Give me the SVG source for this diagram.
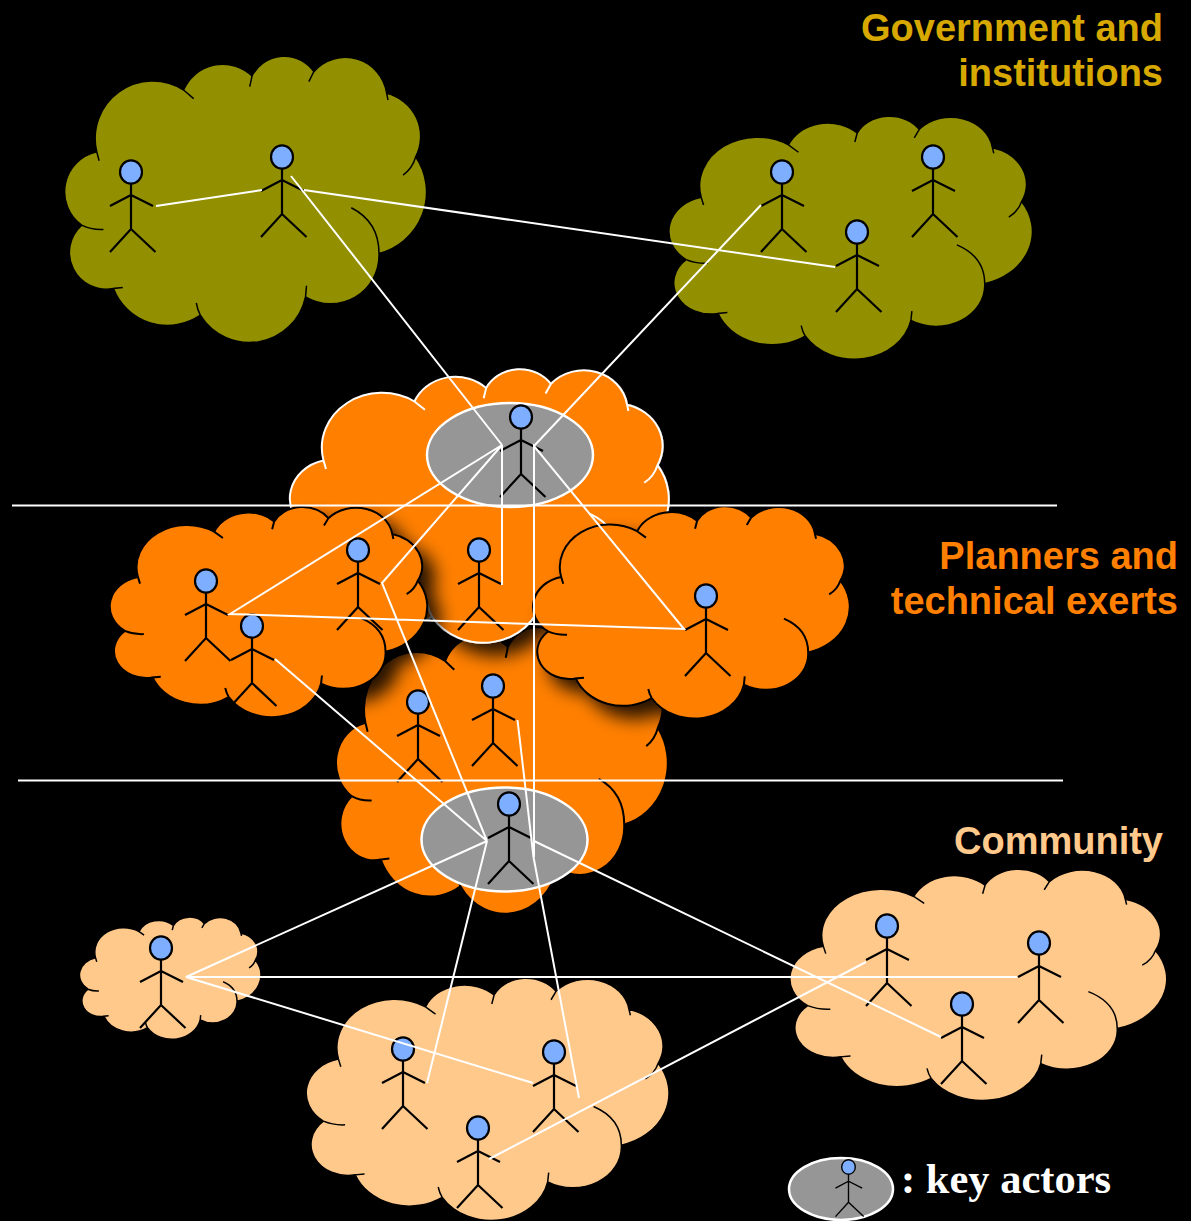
<svg xmlns="http://www.w3.org/2000/svg" width="1191" height="1221" viewBox="0 0 1191 1221">
<style>
.c path{vector-effect:non-scaling-stroke}
.o{fill:#929000;stroke:#000;stroke-width:1.5}
.or{fill:#ff7f00;stroke:#000;stroke-width:2}
.ow{fill:#ff7f00;stroke:#fff;stroke-width:2}
.p{fill:#ffc98c;stroke:#000;stroke-width:1.5}
.k{fill:#969696;stroke:#fff;stroke-width:2.5}
.a path{fill:none;stroke:#000;stroke-width:2.2}
.a ellipse{fill:#7eaeff;stroke:#000;stroke-width:2.2}
#links path{fill:none;stroke:#fff;stroke-width:2}
text{font-family:"Liberation Sans",Arial,sans-serif;font-weight:bold;font-size:38px;text-anchor:end}
</style>
<defs>
<filter id="sh" x="-20%" y="-20%" width="150%" height="150%"><feGaussianBlur in="SourceAlpha" stdDeviation="9"/><feOffset dx="12" dy="12"/><feComponentTransfer><feFuncA type="linear" slope="0.85"/></feComponentTransfer><feMerge><feMergeNode/><feMergeNode in="SourceGraphic"/></feMerge></filter>
<g id="cloud" class="c">
<path stroke="none" d="M95 555A123 123 0 0 1 140 335A172 172 0 0 1 400 150A127 127 0 0 1 605 108A108 108 0 0 1 790 95A125 125 0 0 1 1008 160A133 133 0 0 1 1095 350A190 190 0 0 1 985 640A145 145 0 0 1 765 770A172 172 0 0 1 450 825A173 173 0 0 1 190 745A110 110 0 0 1 95 555Z"/>
<path fill="none" d="M160 568Q125 570 95 555A123 123 0 0 1 140 335L147 362M140 335A172 172 0 0 1 400 150L430 176M400 150A127 127 0 0 1 605 108L598 140M605 108A108 108 0 0 1 790 95L775 125M790 95A125 125 0 0 1 1008 160L1012 180M1008 160A133 133 0 0 1 1095 350Q1085 385 1057 405M1095 350A190 190 0 0 1 985 640M902 503Q985 545 985 640A145 145 0 0 1 765 770L768 737M765 770A172 172 0 0 1 450 825Q442 810 438 788M450 825A173 173 0 0 1 190 745L218 742M190 745A110 110 0 0 1 95 555"/>
</g>
<g id="actor" class="a">
<ellipse cx="0" cy="0" rx="11" ry="11.7"/>
<path d="M0 11.7V57M-21 34L0 23L22 34M-21 80L0 57L24.5 80"/>
</g>
</defs>
<rect width="1191" height="1221" fill="#000"/>
<g id="cloud-gov-left"><use href="#cloud" class="o" transform="translate(65.7 56) scale(.334 .3335) translate(-47 -48)"/></g>
<g id="cloud-gov-right"><use href="#cloud" class="o" transform="translate(670 116) scale(.3355 .2832) translate(-47 -48)"/></g>
<g id="cloud-plan-lower"><use href="#cloud" class="or" transform="translate(337 627) scale(.3062 .3337) translate(-47 -48)"/></g>
<g id="cloud-plan-top" filter="url(#sh)"><use href="#cloud" class="ow" transform="translate(291 369) scale(.3497 .3186) translate(-47 -48)"/></g>
<g id="cloud-plan-left" filter="url(#sh)"><use href="#cloud" class="or" transform="translate(110.700 506.700) scale(.293 .245) translate(-47 -48)"/></g>
<g id="cloud-plan-right" filter="url(#sh)"><use href="#cloud" class="or" transform="translate(534 506) scale(.2923 .2474) translate(-47 -48)"/></g>
<g id="cloud-com-small"><use href="#cloud" class="p" transform="translate(80 917) scale(.1674 .1424) translate(-47 -48)"/></g>
<g id="cloud-com-mid"><use href="#cloud" class="p" transform="translate(307.300 978) scale(.3348 .2824) translate(-47 -48)"/></g>
<g id="cloud-com-right"><use href="#cloud" class="p" transform="translate(791 869) scale(.3478 .2695) translate(-47 -48)"/></g>
<g id="key-top"><ellipse class="k" cx="510" cy="455" rx="83" ry="52"/></g>
<g id="key-bottom"><ellipse class="k" cx="504.500" cy="839.500" rx="83" ry="52"/></g>
<g id="actors">
<use href="#actor" x="131" y="172"/><use href="#actor" x="282" y="157"/><use href="#actor" x="782" y="172"/><use href="#actor" x="933" y="157"/><use href="#actor" x="857" y="232"/>
<use href="#actor" x="521" y="417"/><use href="#actor" x="358" y="550"/><use href="#actor" x="479" y="550"/><use href="#actor" x="206" y="581"/><use href="#actor" x="252" y="626"/><use href="#actor" x="706" y="596"/><use href="#actor" x="418" y="702"/><use href="#actor" x="493" y="686"/><use href="#actor" x="509" y="804"/>
<use href="#actor" x="161" y="948"/><use href="#actor" x="887" y="926"/><use href="#actor" x="1039" y="943"/><use href="#actor" x="962" y="1004"/><use href="#actor" x="403" y="1049"/><use href="#actor" x="554" y="1052"/><use href="#actor" x="478" y="1128"/>
</g>
<g id="links">
<path d="M12 505.500H1057M18 780.500H1063"/>
<path d="M156 206L262 190M304 190L835 267M291 176L502 445M761 205L534 446"/>
<path d="M502 445L230 614L684 629L534 446V857M502 445L382 583L487 841M502 445V585M275 659L487 841M517.500 720L533.500 857L579 1098"/>
<path d="M487 841L186 977L1017 977M487 841L427 1083M534 841L941 1037M186 977L533 1083M489 1159L866 962"/>
</g>
<g id="legend"><ellipse class="k" cx="841" cy="1189" rx="52" ry="31"/><use href="#actor" transform="translate(848.500 1167) scale(.62)"/></g>
<text x="1163" y="41" fill="#d6a800">Government and</text>
<text x="1163" y="86" fill="#d6a800">institutions</text>
<text x="1178" y="569" fill="#ff7f00">Planners and</text>
<text x="1178" y="614" fill="#ff7f00">technical exerts</text>
<text x="1163" y="854" fill="#ffc98c">Community</text>
<text x="901" y="1193" fill="#fff" style="font-family:'Liberation Serif',serif;font-size:42.500px;text-anchor:start">: key actors</text>
</svg>
